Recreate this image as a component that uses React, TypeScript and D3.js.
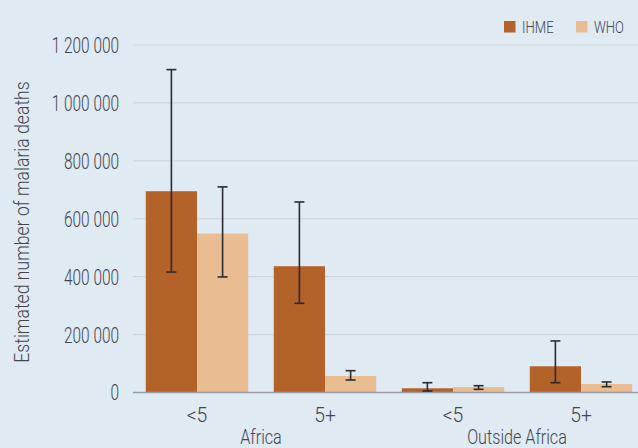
import React from "react";
import * as d3 from "d3";

const groups = ["Africa", "Outside Africa"];
const categories = ["Africa|<5", "Africa|5+", "Outside Africa|<5", "Outside Africa|5+"];
const categoryLabels = ["<5", "5+", "<5", "5+"];
const seriesNames = ["IHME", "WHO"];
const ihmeValues = [695000, 436000, 14500, 90500];
const ihmeLow = [416000, 308000, 5200, 33800];
const ihmeHigh = [1115000, 658000, 33800, 178000];
const whoValues = [549000, 57000, 19000, 29400];
const whoLow = [399000, 43200, 11000, 20000];
const whoHigh = [710000, 75300, 23500, 36300];
const yTicks = [0, 200000, 400000, 600000, 800000, 1000000, 1200000];
const yTitle = "Estimated number of malaria deaths";

const colors = ["#b3622a", "#e9bd91"];
const W = 638, H = 448;
const FONT = "Roboto, 'DejaVu Sans Condensed', sans-serif";
const TEXT = "#45454f";

function Txt(props: { x: number; y: number; size: number; sx: number; anchor?: string; rotate?: number; dy?: string; children: React.ReactNode }) {
  const { x, y, size, sx, anchor = "start", rotate = 0, dy = "0", children } = props;
  return (
    <g transform={`translate(${x},${y}) rotate(${rotate}) scale(${sx},1)`}>
      <text x={0} y={0} dy={dy} textAnchor={anchor} fontSize={size} fontWeight={300} fill={TEXT}>
        {children}
      </text>
    </g>
  );
}

export default function App() {
  const x = d3.scaleBand<string>().domain(categories).range([133, 645]).paddingInner(0.2).paddingOuter(0.1);
  const xs = d3.scaleBand<string>().domain(seriesNames).range([0, x.bandwidth()]);
  const y = d3.scaleLinear().domain([0, 1200000]).range([392.5, 45]);
  const fmt = d3.formatLocale({ thousands: " ", grouping: [3], decimal: ".", currency: ["", ""] }).format(",");
  const series = [
    { name: "IHME", vals: ihmeValues, lo: ihmeLow, hi: ihmeHigh },
    { name: "WHO", vals: whoValues, lo: whoLow, hi: whoHigh },
  ];
  const groupCenter = (g: string) => {
    const cs = categories.filter((c) => c.startsWith(g + "|"));
    const xs0 = cs.map((c) => (x(c) as number) + x.bandwidth() / 2);
    return d3.mean(xs0) as number;
  };
  return (
    <svg width={W} height={H} style={{ position: "absolute", left: 0, top: 0 }} fontFamily={FONT}>
      <rect x={0} y={0} width={W} height={H} fill="#dfeaf3" />
      {yTicks.map((t) => (
        <g key={t}>
          {t > 0 && <line x1={133} x2={W} y1={y(t)} y2={y(t)} stroke="#cfd5db" strokeWidth={1.2} />}
          <Txt x={119} y={y(t)} dy="0.36em" anchor="end" size={22} sx={0.7}>
            {fmt(t)}
          </Txt>
        </g>
      ))}
      <Txt x={21} y={222} rotate={-90} anchor="middle" dy="0.36em" size={21} sx={0.84}>
        {yTitle}
      </Txt>
      {series.map((s, si) =>
        categories.map((c, ci) => {
          const bx = (x(c) as number) + (xs(s.name) as number);
          const bw = xs.bandwidth();
          return (
            <rect key={s.name + c} x={bx} y={y(s.vals[ci])} width={bw} height={y(0) - y(s.vals[ci])} fill={colors[si]} />
          );
        })
      )}
      <line x1={133} x2={W} y1={y(0)} y2={y(0)} stroke="#9a9aa2" strokeWidth={1.5} />
      {series.map((s) =>
        categories.map((c, ci) => {
          const cx = (x(c) as number) + (xs(s.name) as number) + xs.bandwidth() / 2;
          return (
            <g key={"e" + s.name + c} stroke="#2b2b30" strokeWidth={1.6}>
              <line x1={cx} x2={cx} y1={y(s.hi[ci])} y2={y(s.lo[ci])} />
              <line x1={cx - 5} x2={cx + 5} y1={y(s.hi[ci])} y2={y(s.hi[ci])} />
              <line x1={cx - 5} x2={cx + 5} y1={y(s.lo[ci])} y2={y(s.lo[ci])} />
            </g>
          );
        })
      )}
      {categories.map((c, ci) => (
        <Txt key={"xl" + c} x={(x(c) as number) + x.bandwidth() / 2} y={421.5} anchor="middle" size={21} sx={0.92}>
          {categoryLabels[ci]}
        </Txt>
      ))}
      {groups.map((g) => (
        <Txt key={g} x={groupCenter(g)} y={443.5} anchor="middle" size={19.5} sx={0.83}>
          {g}
        </Txt>
      ))}
      {seriesNames.map((n, i) => {
        const lx = [504, 576][i];
        return (
          <g key={n}>
            <rect x={lx} y={21} width={11.5} height={11.5} fill={colors[i]} />
            <Txt x={lx + 18} y={32.5} size={16} sx={0.82}>
              {n}
            </Txt>
          </g>
        );
      })}
    </svg>
  );
}
